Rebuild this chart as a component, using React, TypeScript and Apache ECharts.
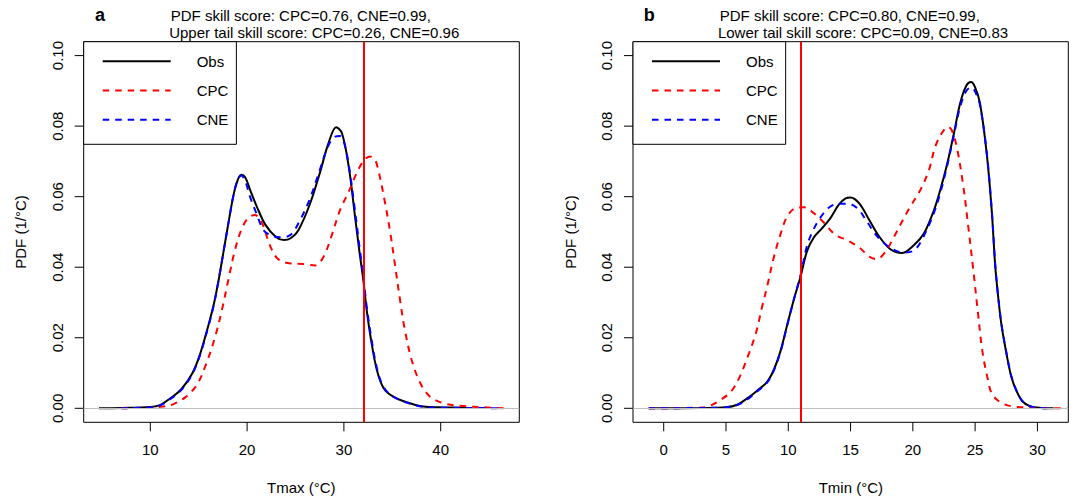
import React, { useEffect, useRef } from 'react';
import * as echarts from 'echarts';

const FONT = '"Liberation Sans", Arial, Helvetica, sans-serif';

// Panel a: Tmax
const obsA: [number, number][] = [[4.7,0],[7,0.0001],[10,0.0004],[11,0.0009],[12,0.0027],[13.2,0.0054],[14.3,0.0097],[15.1,0.015],[16,0.0235],[16.6,0.030],[17.1,0.037],[17.6,0.045],[18.1,0.053],[18.6,0.0605],[19,0.0645],[19.4,0.0662],[19.8,0.0655],[20.3,0.062],[21,0.0572],[21.9,0.052],[23,0.0485],[23.8,0.0477],[24.5,0.0482],[25.3,0.0505],[26.5,0.058],[27.5,0.0666],[28.4,0.0751],[29.2,0.0797],[29.8,0.078],[30.5,0.0685],[31.1,0.0555],[31.6,0.0445],[32,0.0365],[32.35,0.028],[32.8,0.0195],[33.4,0.0109],[34.1,0.0057],[35.1,0.0033],[36.5,0.0017],[38.2,0.0005],[40,0.0003],[43,0.0001]];
const cpcA: [number, number][] = [[7,0],[10,0.0002],[11.3,0.0005],[12.4,0.0012],[13.6,0.0031],[14.8,0.0066],[15.8,0.0128],[16.7,0.0203],[17.4,0.0279],[18.1,0.0369],[18.75,0.0449],[19.4,0.0506],[20.1,0.0539],[20.8,0.0548],[21.3,0.0538],[21.7,0.0515],[22.4,0.0459],[23.2,0.0423],[24.4,0.0411],[25.8,0.0409],[27,0.0405],[27.9,0.043],[28.7,0.0487],[29.6,0.0562],[30.5,0.0614],[31.3,0.0666],[32,0.07],[32.7,0.0714],[33.2,0.0705],[33.55,0.0676],[34.2,0.059],[34.8,0.0496],[35.3,0.0402],[35.8,0.0307],[36.3,0.0222],[37,0.0137],[37.9,0.0071],[38.9,0.0033],[40.3,0.0014],[42,0.0007],[44.4,0.0003],[46.5,0]];
const cneA: [number, number][] = [[7,0],[10,0.0003],[11,0.0008],[12,0.0025],[13.2,0.0052],[14.3,0.0095],[15.1,0.0148],[16,0.0232],[16.6,0.0298],[17.1,0.037],[17.6,0.045],[18.1,0.053],[18.6,0.0605],[19,0.0645],[19.4,0.066],[19.8,0.0645],[20.3,0.06],[21,0.055],[21.7,0.0505],[22.5,0.049],[23.5,0.0485],[24.5,0.0492],[25.5,0.0535],[26.5,0.0595],[27.5,0.0675],[28.4,0.0745],[29.1,0.077],[29.6,0.0772],[30,0.0755],[30.5,0.069],[31.1,0.057],[31.6,0.046],[32,0.0375],[32.35,0.029],[32.8,0.0205],[33.4,0.0115],[34.1,0.006],[35.1,0.0033],[36.5,0.0016],[38.2,0.0004],[40,0.0002],[43,0.0001],[46.5,0]];

// Panel b: Tmin
const obsB: [number, number][] = [[-1.2,0],[3,0.0001],[5,0.0003],[5.9,0.001],[6.7,0.0028],[7.5,0.005],[8.3,0.0075],[8.85,0.011],[9.4,0.0165],[9.9,0.0235],[10.46,0.031],[11,0.0375],[11.5,0.0445],[12.06,0.0485],[12.7,0.051],[13.4,0.054],[14.07,0.0578],[14.6,0.0595],[15,0.0598],[15.7,0.0581],[16.5,0.0534],[17.3,0.0487],[18.2,0.0451],[19.1,0.044],[20.1,0.0463],[20.9,0.0496],[21.7,0.0562],[22.2,0.0619],[22.77,0.0695],[23.3,0.078],[23.8,0.0865],[24.3,0.0915],[24.67,0.0925],[25,0.091],[25.39,0.0865],[25.93,0.0723],[26.33,0.0562],[26.6,0.041],[26.8,0.0333],[27.1,0.024],[27.5,0.0158],[27.9,0.009],[28.3,0.0051],[28.8,0.002],[29.4,0.0006],[30.3,0.0001],[31.3,0]];
const cpcB: [number, number][] = [[-1.2,0],[3,0.0002],[3.77,0.0008],[4.57,0.0024],[5.4,0.0047],[6.04,0.0085],[6.7,0.0142],[7.4,0.0213],[7.9,0.0288],[8.3,0.0345],[8.85,0.043],[9.4,0.0496],[9.9,0.0543],[10.6,0.0568],[11.3,0.057],[12.06,0.0553],[12.9,0.0525],[13.8,0.0491],[14.7,0.0477],[15.7,0.0456],[16.5,0.043],[17.1,0.0423],[17.8,0.0444],[18.5,0.0487],[19.2,0.0534],[19.8,0.0572],[20.6,0.0619],[21.3,0.0676],[21.8,0.0742],[22.4,0.0784],[22.8,0.0798],[23.1,0.079],[23.52,0.0742],[24.05,0.063],[24.45,0.0515],[24.86,0.039],[25.2,0.028],[25.57,0.0165],[26,0.0085],[26.4,0.0038],[27.3,0.0012],[28.4,0.0004],[30.3,0.0001],[32.4,0]];
const cneB: [number, number][] = [[-1.2,0],[3,0.0001],[5,0.0003],[5.9,0.0009],[6.7,0.0025],[7.5,0.0048],[8.3,0.0073],[8.85,0.0108],[9.4,0.0163],[9.9,0.0233],[10.46,0.031],[11,0.038],[11.5,0.046],[12,0.0505],[12.6,0.0542],[13.3,0.057],[14,0.058],[14.8,0.058],[15.6,0.0565],[16.3,0.053],[17.2,0.0485],[18.2,0.0455],[19.2,0.0442],[20.1,0.0448],[20.9,0.049],[21.7,0.0555],[22.2,0.061],[22.77,0.069],[23.3,0.0775],[23.8,0.0855],[24.3,0.09],[24.7,0.091],[25,0.0898],[25.39,0.086],[25.93,0.0725],[26.33,0.0565],[26.6,0.0415],[26.8,0.0335],[27.1,0.0242],[27.5,0.016],[27.9,0.0092],[28.3,0.0052],[28.8,0.002],[29.4,0.0006],[30.3,0.0001],[31.3,0]];

const xTicksA = [10, 20, 30, 40];
const xTicksB = [0, 5, 10, 15, 20, 25, 30];
const yTicks = [0, 0.02, 0.04, 0.06, 0.08, 0.1];
const thresholdA = 32;
const thresholdB = 11;
const legendNames = ['Obs', 'CPC', 'CNE'];
const titleA1 = 'PDF skill score: CPC=0.76, CNE=0.99,';
const titleA2 = 'Upper tail skill score: CPC=0.26, CNE=0.96';
const titleB1 = 'PDF skill score: CPC=0.80, CNE=0.99,';
const titleB2 = 'Lower tail skill score: CPC=0.09, CNE=0.83';

const X_RANGE_A: [number, number] = [3.12, 48.12];
const X_RANGE_B: [number, number] = [-2.465, 32.48];
const Y_RANGE: [number, number] = [-0.00397, 0.10394];

const txt = (text: string, x: number, y: number, extra: any = {}) => ({
  type: 'text',
  x,
  y,
  rotation: extra.rotation || 0,
  silent: true,
  style: {
    text,
    fill: '#000',
    fontSize: extra.fontSize || 15,
    fontWeight: extra.fontWeight || 'normal',
    fontFamily: FONT,
    textAlign: 'center',
    textVerticalAlign: 'middle',
  },
});

function xAxis(gridIndex: number, range: [number, number], ticks: number[]) {
  return {
    type: 'value',
    gridIndex,
    min: range[0],
    max: range[1],
    axisLine: { show: false },
    axisTick: { show: false },
    axisLabel: { customValues: ticks, fontSize: 15, color: '#000', fontFamily: FONT, margin: 20 },
    splitLine: { show: false },
  };
}

function yAxis(gridIndex: number) {
  return {
    type: 'value',
    gridIndex,
    min: Y_RANGE[0],
    max: Y_RANGE[1],
    axisLine: { show: false },
    axisTick: { show: false },
    axisLabel: {
      customValues: yTicks,
      rotate: 90,
      fontSize: 15,
      color: '#000',
      fontFamily: FONT,
      margin: 19,
      formatter: (v: number) => v.toFixed(2),
    },
    splitLine: { show: false },
  };
}

const DASH = [6.5, 6];

function panelSeries(idx: number, obs: [number, number][], cpc: [number, number][], cne: [number, number][], thr: number) {
  const base = { type: 'line', xAxisIndex: idx, yAxisIndex: idx, symbol: 'none', showSymbol: false, smooth: 0.35, silent: true };
  return [
    { ...base, name: 'Obs', data: obs, lineStyle: { color: '#000000', width: 2, type: 'solid' }, itemStyle: { color: '#000000' } },
    {
      type: 'line', xAxisIndex: idx, yAxisIndex: idx, data: [], silent: true, symbol: 'none',
      markLine: { silent: true, symbol: 'none', label: { show: false }, data: [{ yAxis: 0, lineStyle: { color: '#bebebe', width: 1, type: 'solid' } }] },
    },
    { ...base, name: 'CPC', data: cpc, lineStyle: { color: '#ff0000', width: 2, type: DASH }, itemStyle: { color: '#ff0000' } },
    { ...base, name: 'CNE', data: cne, lineStyle: { color: '#0000ff', width: 2, type: DASH }, itemStyle: { color: '#0000ff' } },
    {
      type: 'line', xAxisIndex: idx, yAxisIndex: idx, data: [], silent: true, symbol: 'none',
      markLine: { silent: true, symbol: 'none', label: { show: false }, data: [{ xAxis: thr, lineStyle: { color: '#ff0000', width: 2, type: 'solid' } }] },
    },
  ];
}

function legend(left: number) {
  return {
    orient: 'vertical',
    left,
    top: 41.7,
    padding: [12, 8, 17, 18],
    itemWidth: 68,
    itemHeight: 14,
    itemGap: 14.3,
    borderColor: '#000',
    borderWidth: 1,
    backgroundColor: '#fff',
    selectedMode: false,
    data: legendNames,
    itemStyle: { opacity: 0, borderWidth: 0 },
    textStyle: { fontSize: 15, color: '#000', fontFamily: FONT, lineHeight: 14, padding: [0, 0, 0, 21] },
  };
}

const staticGraphics = [
  txt('a', 100, 14.5, { fontSize: 18, fontWeight: 'bold' }),
  txt(titleA1, 300.8, 15),
  txt(titleA2, 314.2, 32.7),
  txt('b', 649.3, 14.5, { fontSize: 18, fontWeight: 'bold' }),
  txt(titleB1, 849.8, 15),
  txt(titleB2, 863, 32.7),
  txt('Tmax (°C)', 301.3, 487.3),
  txt('Tmin (°C)', 850.8, 487.3),
  txt('PDF (1/°C)', 20.7, 232, { rotation: Math.PI / 2 }),
  txt('PDF (1/°C)', 570, 232, { rotation: Math.PI / 2 }),
];

const option: any = {
  animation: false,
  backgroundColor: '#fff',
  grid: [
    { left: 83.7, top: 41.7, width: 435.6, height: 380.6, show: true, borderColor: '#000', borderWidth: 1, backgroundColor: 'transparent' },
    { left: 633, top: 41.7, width: 435.3, height: 380.6, show: true, borderColor: '#000', borderWidth: 1, backgroundColor: 'transparent' },
  ],
  xAxis: [xAxis(0, X_RANGE_A, xTicksA), xAxis(1, X_RANGE_B, xTicksB)],
  yAxis: [yAxis(0), yAxis(1)],
  legend: [legend(83.7), legend(633)],
  series: [...panelSeries(0, obsA, cpcA, cneA, thresholdA), ...panelSeries(1, obsB, cpcB, cneB, thresholdB)],
  graphic: staticGraphics,
};

const TICK_LEN = 9;

function tickGraphics(chart: echarts.ECharts) {
  const out: any[] = [];
  const panels: [number, number[], [number, number]][] = [
    [0, xTicksA, X_RANGE_A],
    [1, xTicksB, X_RANGE_B],
  ];
  panels.forEach(([idx, xt, xr]) => {
    const finder = { xAxisIndex: idx, yAxisIndex: idx };
    xt.forEach((t) => {
      const p = chart.convertToPixel(finder as any, [t, Y_RANGE[0]]) as number[];
      out.push({ type: 'line', silent: true, shape: { x1: p[0], y1: p[1], x2: p[0], y2: p[1] + TICK_LEN }, style: { stroke: '#000', lineWidth: 1 } });
    });
    yTicks.forEach((v) => {
      const p = chart.convertToPixel(finder as any, [xr[0], v]) as number[];
      out.push({ type: 'line', silent: true, shape: { x1: p[0] - TICK_LEN, y1: p[1], x2: p[0], y2: p[1] }, style: { stroke: '#000', lineWidth: 1 } });
    });
  });
  return out;
}

export default function App() {
  const ref = useRef<HTMLDivElement>(null);
  useEffect(() => {
    if (!ref.current) return;
    const chart = echarts.init(ref.current, null, { renderer: 'svg' });
    chart.setOption(option);
    chart.setOption({ graphic: [...staticGraphics, ...tickGraphics(chart)] });
    return () => chart.dispose();
  }, []);
  return (
    <div
      ref={ref}
      style={{ position: 'fixed', left: 0, top: 0, width: 1074, height: 500, background: '#fff' }}
    />
  );
}
